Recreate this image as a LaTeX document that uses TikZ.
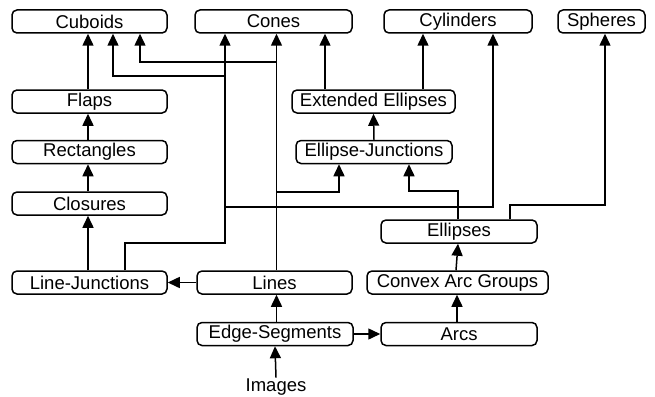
\documentclass[tikz,border=0pt]{standalone}
\usepackage{fontspec}
\setmainfont{Liberation Sans}
\usetikzlibrary{arrows.meta}
\begin{document}
\begin{tikzpicture}[x=1pt,y=-1pt,
  box/.style={draw, line width=1.5pt, rounded corners=5pt, minimum height=23pt,
    inner sep=0pt, font=\fontsize{18.5}{20}\selectfont},
  arr/.style={line width=1.5pt, -{Triangle[length=12pt,width=11pt]}},
  ln/.style={line width=1.5pt}]
\useasboundingbox (0,0) rectangle (655,396);

% top row
\node[box, minimum width=155pt] (cuboids) at (89.5,21.5) {Cuboids};
\node[box, minimum width=157pt] (cones) at (273.5,21.5) {Cones};
\node[box, minimum width=148pt] (cylinders) at (458,21.5) {Cylinders};
\node[box, minimum width=87pt] (spheres) at (601.5,21.5) {Spheres};

% intermediate nodes
\node[box, minimum width=155pt] (flaps) at (89.5,101.5) {Flaps};
\node[box, minimum width=163pt] (extell) at (373.5,101.5) {Extended Ellipses};
\node[box, minimum width=155pt] (rects) at (89.5,152) {Rectangles};
\node[box, minimum width=156pt] (ellj) at (374,152) {Ellipse-Junctions};
\node[box, minimum width=155pt] (closures) at (89.5,203.5) {Closures};
\node[box, minimum width=156pt] (ellipses) at (459,231.5) {Ellipses};

% lower nodes
\node[box, minimum width=155pt] (linej) at (89.5,282.5) {Line-Junctions};
\node[box, minimum width=155pt] (lines) at (274.5,282.5) {Lines};
\node[box, minimum width=181pt] (cag) at (457.5,282.5) {Convex Arc Groups};
\node[box, minimum width=156pt] (edgeseg) at (275,334) {Edge-Segments};
\node[box, minimum width=156pt] (arcs) at (459,334) {Arcs};
\node[font=\fontsize{18.5}{20}\selectfont, inner sep=1pt] (images) at (276,387) {Images};

% left column chain
\draw[arr] ([xshift=-1.5pt]flaps.north) -- ([xshift=-1.5pt]cuboids.south);
\draw[arr] ([xshift=-1.5pt]rects.north) -- ([xshift=-1.5pt]flaps.south);
\draw[arr] ([xshift=-1.5pt]closures.north) -- ([xshift=-1.5pt]rects.south);
\draw[arr] ([xshift=-1.5pt]linej.north) -- ([xshift=-1.5pt]closures.south);

% ellipse chain
\draw[arr] (ellj.north) -- (extell.south);
\draw[arr] ([xshift=-48.5pt]extell.north) -- ([xshift=-48.5pt]extell.north |- cones.south);
\draw[arr] ([xshift=49.5pt]extell.north) -- ([xshift=49.5pt]extell.north |- cylinders.south);

% Lines to Cones, Cuboids and Ellipse-Junctions
\coordinate (lx) at ([xshift=2pt]lines.north);
\draw[arr] (lx) -- (lx |- cones.south);
\draw[arr] (lx |- 0,62) -| ([xshift=50.5pt]cuboids.south);
\draw[arr] (lx |- 0,192) -| ([xshift=-35pt]ellj.south);

% Line-Junctions to Cones, Cuboids and Cylinders
\coordinate (jx) at (225,243);
\draw[arr] ([xshift=35.5pt]linej.north) |- (jx) -- (jx |- cones.south);
\draw[arr] (jx |- 0,76) -| ([xshift=23.5pt]cuboids.south);
\draw[arr] (jx |- 0,207) -| ([xshift=35pt]cylinders.south);

% Ellipses to Ellipse-Junctions and Spheres
\draw[arr] ([xshift=-1pt]ellipses.north) |- (409,191) -- (409,191 |- ellj.south);
\draw[arr] ([xshift=51pt]ellipses.north) |- (605,205) -- (605,205 |- spheres.south);

% bottom connections
\draw[arr] ([xshift=-1.5pt]cag.north) -- ([xshift=-1pt]ellipses.south);
\draw[arr] ([xshift=-2pt]arcs.north) -- ([xshift=-2pt]arcs.north |- cag.south);
\draw[arr] ([xshift=1.5pt]edgeseg.north) -- ([xshift=1.5pt]edgeseg.north |- lines.south);
\draw[arr] (edgeseg.east) -- (arcs.west);
\draw[arr] (lines.west) -- (linej.east);
\draw[arr] (images.north) -- (edgeseg.south);
\end{tikzpicture}
\end{document}
